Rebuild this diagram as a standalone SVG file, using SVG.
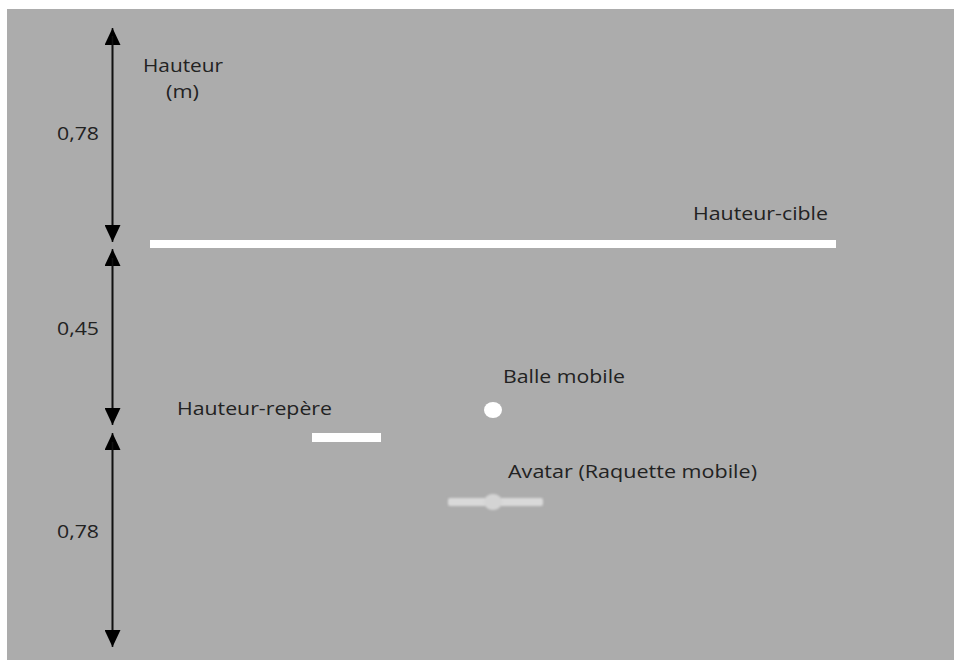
<svg xmlns="http://www.w3.org/2000/svg" width="954" height="662" viewBox="0 0 954 662">
<defs>
<style>
.t{font-family:"Open Sans","Noto Sans",sans-serif;font-size:19px;fill:#222}
.ax{stroke:#111;stroke-width:1.6;fill:none}
.bar{fill:#fff}
</style>
<marker id="ah" viewBox="0 0 18 16" refX="17" refY="8" markerWidth="18" markerHeight="16" markerUnits="userSpaceOnUse" orient="auto">
<path d="M0,0 L17,8 L0,16 Z" fill="#000"/>
</marker>
<filter id="blur" x="-10%" y="-50%" width="120%" height="200%"><feGaussianBlur stdDeviation="1"/></filter>
</defs>
<rect width="954" height="662" fill="#fff"/>
<rect x="7" y="9" width="947" height="651" fill="#acacac"/>
<g id="connectors">
<line class="ax" x1="112.5" y1="236" x2="112.5" y2="28" marker-end="url(#ah)"/>
<line class="ax" x1="112.5" y1="36" x2="112.5" y2="242" marker-end="url(#ah)"/>
<line class="ax" x1="112.5" y1="420" x2="112.5" y2="249" marker-end="url(#ah)"/>
<line class="ax" x1="112.5" y1="258" x2="112.5" y2="425" marker-end="url(#ah)"/>
<line class="ax" x1="112.5" y1="640" x2="112.5" y2="433" marker-end="url(#ah)"/>
<line class="ax" x1="112.5" y1="442" x2="112.5" y2="647" marker-end="url(#ah)"/>
</g>
<g id="axis-label">
<text class="t" x="143" y="72" textLength="80" lengthAdjust="spacingAndGlyphs">Hauteur</text>
<text class="t" x="166" y="98" textLength="33" lengthAdjust="spacingAndGlyphs">(m)</text>
</g>
<g id="dim-1"><text class="t" x="57" y="140" textLength="42" lengthAdjust="spacingAndGlyphs">0,78</text></g>
<g id="dim-2"><text class="t" x="57" y="335" textLength="42" lengthAdjust="spacingAndGlyphs">0,45</text></g>
<g id="dim-3"><text class="t" x="57" y="538" textLength="42" lengthAdjust="spacingAndGlyphs">0,78</text></g>
<g id="hauteur-cible">
<rect class="bar" x="150" y="240" width="686" height="8"/>
<text class="t" x="693" y="220" textLength="135" lengthAdjust="spacingAndGlyphs">Hauteur-cible</text>
</g>
<g id="hauteur-repere">
<rect class="bar" x="312" y="433" width="69" height="9"/>
<text class="t" x="177" y="415" textLength="155" lengthAdjust="spacingAndGlyphs">Hauteur-repère</text>
</g>
<g id="balle">
<ellipse cx="493" cy="410" rx="9" ry="8" fill="#fff"/>
<text class="t" x="503" y="383" textLength="122" lengthAdjust="spacingAndGlyphs">Balle mobile</text>
</g>
<g id="avatar">
<g filter="url(#blur)">
<rect x="448" y="498" width="95" height="8" rx="2" fill="#d9d9d9"/>
<ellipse cx="493" cy="502" rx="9" ry="8" fill="#d4d4d4"/>
</g>
<text class="t" x="508" y="478" textLength="249" lengthAdjust="spacingAndGlyphs">Avatar (Raquette mobile)</text>
</g>
</svg>
